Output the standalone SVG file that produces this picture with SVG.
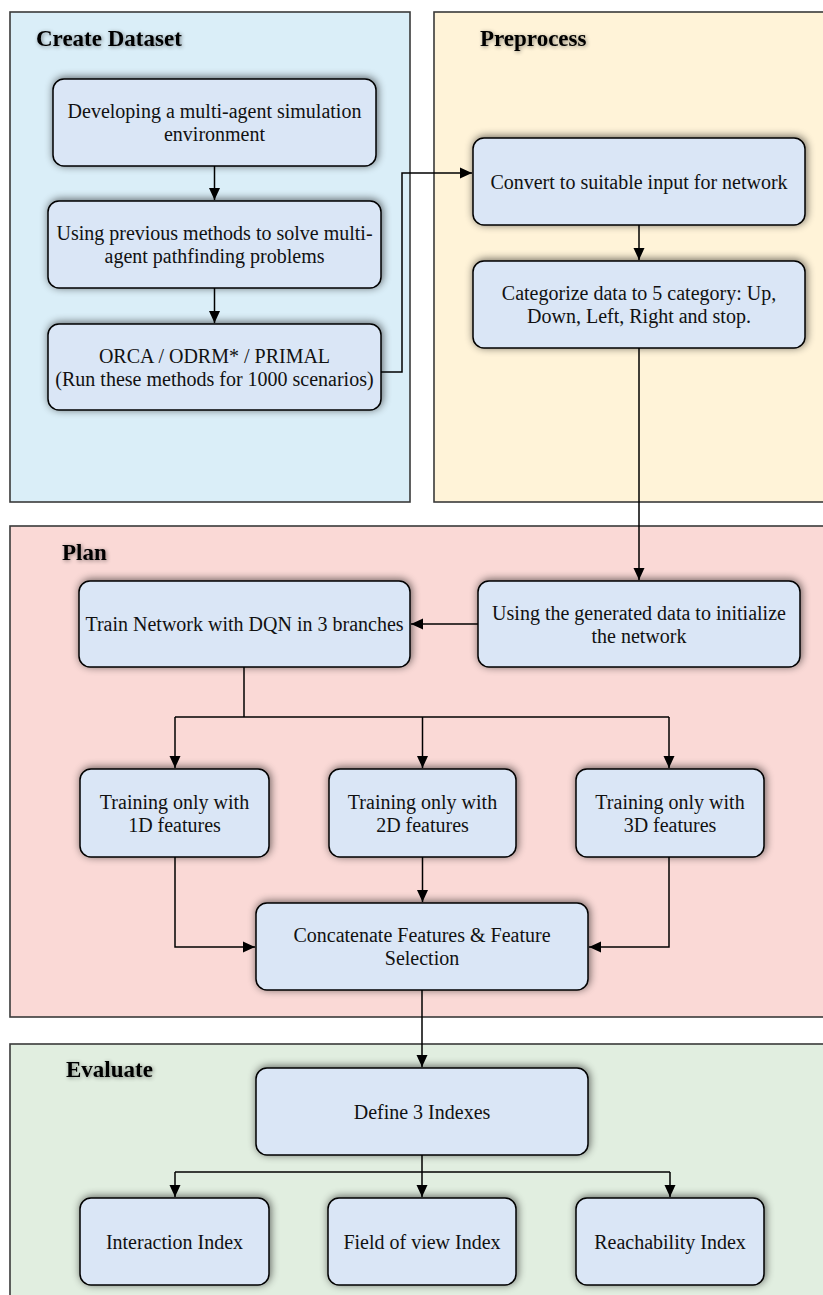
<svg xmlns="http://www.w3.org/2000/svg" width="823" height="1295" viewBox="0 0 823 1295">
<style>
.panel{stroke:#3a3a3a;stroke-width:1.6}
.title{font-family:"Liberation Serif","Times New Roman",serif;font-weight:bold;font-size:23px;fill:#000}
.node rect{fill:#DAE6F6;stroke:#000;stroke-width:1.5}
.node text{font-family:"Liberation Serif","Times New Roman",serif;font-size:20px;fill:#111;text-anchor:middle}
.conn path{fill:none;stroke:#000;stroke-width:1.5}
</style>
<defs>
<filter id="sh" x="-10%" y="-20%" width="120%" height="140%">
<feGaussianBlur in="SourceAlpha" stdDeviation="4"/>
<feOffset dx="1" dy="-1" result="b"/>
<feComponentTransfer><feFuncA type="linear" slope="0.6"/></feComponentTransfer>
<feMerge><feMergeNode/><feMergeNode in="SourceGraphic"/></feMerge>
</filter>
<filter id="tsh" x="-10%" y="-30%" width="120%" height="160%">
<feGaussianBlur in="SourceAlpha" stdDeviation="2"/>
<feOffset dx="1" dy="1"/>
<feComponentTransfer><feFuncA type="linear" slope="0.45"/></feComponentTransfer>
<feMerge><feMergeNode/><feMergeNode in="SourceGraphic"/></feMerge>
</filter>
<marker id="ah" markerUnits="userSpaceOnUse" markerWidth="13" markerHeight="12" refX="12" refY="6" orient="auto">
<path d="M0,0.5 L12,6 L0,11.5 z" fill="#000"/>
</marker>
</defs>

<g id="panel-create">
<rect class="panel" x="10" y="12" width="400" height="490" fill="#DAEEF8"/>
<text class="title" x="36" y="46" filter="url(#tsh)">Create Dataset</text>
</g>
<g id="panel-preprocess">
<rect class="panel" x="434" y="12" width="400" height="490" fill="#FFF3D8"/>
<text class="title" x="480" y="46" filter="url(#tsh)">Preprocess</text>
</g>
<g id="panel-plan">
<rect class="panel" x="10" y="526" width="824" height="491" fill="#FAD9D6"/>
<text class="title" x="62" y="560" filter="url(#tsh)">Plan</text>
</g>
<g id="panel-evaluate">
<rect class="panel" x="10" y="1044" width="824" height="270" fill="#E1EEE0"/>
<text class="title" x="66" y="1077" filter="url(#tsh)">Evaluate</text>
</g>

<g id="connectors" class="conn">
<path d="M214.5 166 V200" marker-end="url(#ah)"/>
<path d="M214.5 288 V323" marker-end="url(#ah)"/>
<path d="M381 372 H402 V173 H472" marker-end="url(#ah)"/>
<path d="M639 225 V260" marker-end="url(#ah)"/>
<path d="M639 348 V580" marker-end="url(#ah)"/>
<path d="M478 624 H411" marker-end="url(#ah)"/>
<path d="M244 667 V717"/>
<path d="M175 717 H669"/>
<path d="M175 717 V768" marker-end="url(#ah)"/>
<path d="M422.5 717 V768" marker-end="url(#ah)"/>
<path d="M669 717 V768" marker-end="url(#ah)"/>
<path d="M175 857 V947 H255" marker-end="url(#ah)"/>
<path d="M422.5 857 V902" marker-end="url(#ah)"/>
<path d="M669 857 V947 H589" marker-end="url(#ah)"/>
<path d="M422 990 V1067" marker-end="url(#ah)"/>
<path d="M422 1155 V1172"/>
<path d="M175 1172 H670"/>
<path d="M175 1172 V1197" marker-end="url(#ah)"/>
<path d="M422 1172 V1197" marker-end="url(#ah)"/>
<path d="M670 1172 V1197" marker-end="url(#ah)"/>
</g>

<g id="n-develop" class="node">
<rect x="53" y="79" width="323" height="87" rx="11" filter="url(#sh)"/>
<text x="214.5" y="118">Developing a multi-agent simulation</text>
<text x="214.5" y="141">environment</text>
</g>
<g id="n-previous" class="node">
<rect x="48" y="201" width="333" height="87" rx="11" filter="url(#sh)"/>
<text x="214.5" y="240">Using previous methods to solve multi-</text>
<text x="214.5" y="263">agent pathfinding problems</text>
</g>
<g id="n-orca" class="node">
<rect x="48" y="324" width="333" height="86" rx="11" filter="url(#sh)"/>
<text x="214.5" y="362.5">ORCA / ODRM* / PRIMAL</text>
<text x="214.5" y="385.5">(Run these methods for 1000 scenarios)</text>
</g>
<g id="n-convert" class="node">
<rect x="473" y="138" width="332" height="87" rx="11" filter="url(#sh)"/>
<text x="639" y="188.5">Convert to suitable input for network</text>
</g>
<g id="n-categorize" class="node">
<rect x="473" y="261" width="332" height="87" rx="11" filter="url(#sh)"/>
<text x="639" y="300">Categorize data to 5 category: Up,</text>
<text x="639" y="323">Down, Left, Right and stop.</text>
</g>
<g id="n-using" class="node">
<rect x="478" y="581" width="322" height="86" rx="11" filter="url(#sh)"/>
<text x="639" y="619.5">Using the generated data to initialize</text>
<text x="639" y="642.5">the network</text>
</g>
<g id="n-train" class="node">
<rect x="79" y="581" width="331" height="86" rx="11" filter="url(#sh)"/>
<text x="244.5" y="631">Train Network with DQN in 3 branches</text>
</g>
<g id="n-1d" class="node">
<rect x="80" y="769" width="189" height="88" rx="11" filter="url(#sh)"/>
<text x="174.5" y="808.5">Training only with</text>
<text x="174.5" y="831.5">1D features</text>
</g>
<g id="n-2d" class="node">
<rect x="329" y="769" width="187" height="88" rx="11" filter="url(#sh)"/>
<text x="422.5" y="808.5">Training only with</text>
<text x="422.5" y="831.5">2D features</text>
</g>
<g id="n-3d" class="node">
<rect x="576" y="769" width="188" height="88" rx="11" filter="url(#sh)"/>
<text x="670" y="808.5">Training only with</text>
<text x="670" y="831.5">3D features</text>
</g>
<g id="n-concat" class="node">
<rect x="256" y="903" width="332" height="87" rx="11" filter="url(#sh)"/>
<text x="422" y="942">Concatenate Features &amp; Feature</text>
<text x="422" y="965">Selection</text>
</g>
<g id="n-define" class="node">
<rect x="256" y="1068" width="332" height="87" rx="11" filter="url(#sh)"/>
<text x="422" y="1118.5">Define 3 Indexes</text>
</g>
<g id="n-interaction" class="node">
<rect x="80" y="1198" width="189" height="87" rx="11" filter="url(#sh)"/>
<text x="174.5" y="1248.5">Interaction Index</text>
</g>
<g id="n-fov" class="node">
<rect x="328" y="1198" width="188" height="87" rx="11" filter="url(#sh)"/>
<text x="422" y="1248.5">Field of view Index</text>
</g>
<g id="n-reach" class="node">
<rect x="576" y="1198" width="188" height="87" rx="11" filter="url(#sh)"/>
<text x="670" y="1248.5">Reachability Index</text>
</g>
</svg>
